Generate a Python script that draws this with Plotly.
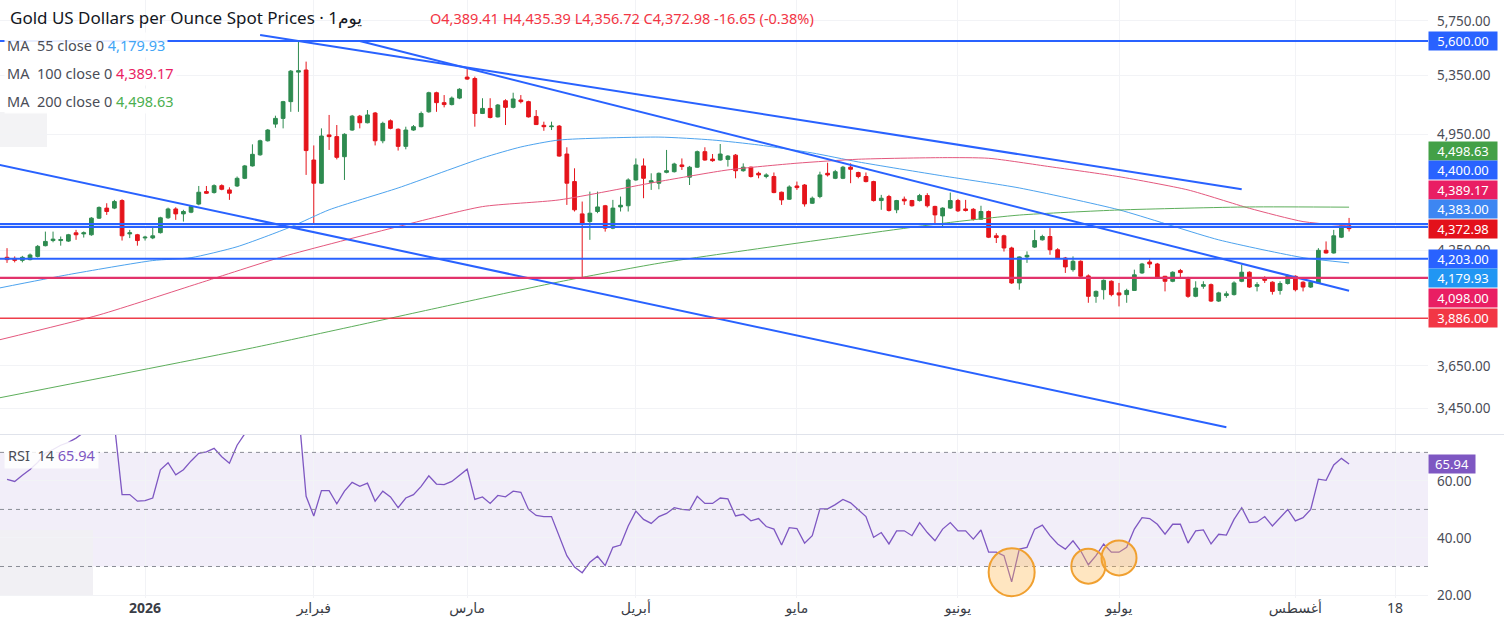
import numpy as np
import pandas as pd
import plotly.graph_objects as go

FONT = "Noto Sans, DejaVu Sans, sans-serif"

# ---- data -------------------------------------------------------------
# one bar per weekday, no bar on Good Friday and 19 June
holidays = ["2026-04-03", "2026-06-19"]
dates = [d for d in pd.bdate_range("2025-12-08", "2026-08-12") if d.strftime("%Y-%m-%d") not in holidays]

open_ = [
    4211, 4205, 4194, 4198, 4216, 4276, 4305, 4305, 4302, 4349,
    4343, 4338, 4434, 4493, 4493, 4538, 4343, 4338, 4320, 4320,
    4350, 4436, 4488, 4459, 4469, 4517, 4592, 4586, 4628, 4602,
    4626, 4673, 4750, 4820, 4910, 5019, 5057, 5170, 5375, 5390,
    4787, 4643, 4948, 4937, 4808, 4980, 5072, 5028, 5093, 4910,
    5041, 4985, 4874, 4980, 5002, 5101, 5231, 5163, 5150, 5194,
    5340, 5330, 5090, 5124, 5067, 5176, 5131, 5181, 5170, 5070,
    5011, 5002, 5006, 4825, 4653, 4459, 4414, 4473, 4507, 4376,
    4500, 4507, 4663, 4750, 4648, 4643, 4710, 4714, 4756, 4680,
    4742, 4840, 4793, 4787, 4791, 4818, 4720, 4742, 4704, 4684,
    4684, 4588, 4546, 4626, 4632, 4522, 4562, 4704, 4673, 4673,
    4742, 4709, 4684, 4653, 4538, 4562, 4483, 4546, 4538, 4538,
    4568, 4503, 4447, 4493, 4538, 4488, 4486, 4428, 4473, 4332,
    4332, 4263, 4071, 4213, 4268, 4309, 4328, 4253, 4207, 4143,
    4189, 4109, 4000, 4035, 4080, 4018, 4009, 4031, 4125, 4185,
    4174, 4107, 4080, 4138, 4098, 4000, 4053, 4062, 3975, 4004,
    4009, 4080, 4129, 4053, 4098, 4075, 4031, 4068, 4107, 4075,
    4049, 4071, 4250, 4235, 4324, 4389.41,
]
high = [
    4262, 4216, 4219, 4232, 4280, 4356, 4356, 4328, 4343, 4366,
    4357, 4440, 4503, 4522, 4542, 4546, 4366, 4343, 4332, 4385,
    4442, 4496, 4498, 4483, 4510, 4626, 4626, 4636, 4636, 4618,
    4684, 4756, 4887, 4917, 4987, 5075, 5175, 5390, 5595, 5450,
    4880, 4991, 5080, 5013, 4959, 5080, 5080, 5113, 5100, 5035,
    5050, 4991, 5002, 5013, 5103, 5238, 5238, 5215, 5205, 5262,
    5402, 5343, 5193, 5193, 5154, 5186, 5231, 5215, 5176, 5113,
    5035, 5035, 5013, 4868, 4735, 4532, 4592, 4592, 4512, 4542,
    4562, 4673, 4797, 4797, 4704, 4709, 4851, 4770, 4797, 4750,
    4847, 4868, 4825, 4889, 4818, 4825, 4766, 4746, 4714, 4704,
    4709, 4592, 4630, 4653, 4638, 4562, 4714, 4770, 4725, 4750,
    4766, 4714, 4709, 4658, 4572, 4572, 4542, 4562, 4542, 4578,
    4582, 4507, 4498, 4586, 4548, 4542, 4493, 4507, 4479, 4347,
    4338, 4270, 4216, 4244, 4366, 4338, 4376, 4262, 4213, 4216,
    4194, 4117, 4031, 4090, 4085, 4071, 4040, 4143, 4180, 4202,
    4180, 4109, 4134, 4147, 4104, 4080, 4080, 4068, 4024, 4026,
    4080, 4170, 4134, 4075, 4107, 4080, 4080, 4117, 4112, 4080,
    4080, 4262, 4300, 4366, 4395, 4435.39,
]
low = [
    4180, 4183, 4183, 4194, 4210, 4272, 4295, 4276, 4297, 4309,
    4322, 4332, 4429, 4453, 4487, 4305, 4319, 4276, 4305, 4313,
    4345, 4430, 4424, 4414, 4463, 4510, 4578, 4580, 4600, 4542,
    4620, 4668, 4746, 4814, 4905, 4995, 4991, 5101, 5101, 4694,
    4405, 4638, 4851, 4791, 4663, 4975, 4991, 5024, 4880, 4894,
    4985, 4847, 4855, 4975, 4998, 5095, 5101, 5131, 5144, 5187,
    5320, 5002, 5086, 5057, 5063, 5013, 5124, 5158, 5063, 5013,
    4975, 4980, 4808, 4512, 4473, 4098, 4309, 4463, 4356, 4370,
    4473, 4473, 4658, 4552, 4602, 4606, 4704, 4709, 4725, 4632,
    4738, 4783, 4776, 4783, 4746, 4673, 4714, 4678, 4673, 4673,
    4582, 4512, 4542, 4602, 4502, 4518, 4552, 4684, 4668, 4668,
    4643, 4673, 4648, 4532, 4483, 4473, 4463, 4512, 4502, 4532,
    4497, 4405, 4385, 4488, 4470, 4473, 4420, 4424, 4319, 4291,
    4243, 4066, 4035, 4180, 4263, 4305, 4225, 4201, 4125, 4132,
    4101, 3966, 3966, 3983, 4000, 3947, 3966, 4031, 4120, 4152,
    4093, 4026, 4075, 4093, 3992, 3995, 4040, 3970, 3970, 3992,
    4004, 4075, 4044, 4026, 4071, 4009, 4009, 4062, 4026, 4026,
    4044, 4066, 4232, 4232, 4319, 4356.72,
]
close = [
    4198, 4194, 4211, 4224, 4272, 4300, 4313, 4311, 4338, 4338,
    4349, 4434, 4497, 4473, 4532, 4332, 4349, 4305, 4324, 4332,
    4436, 4488, 4459, 4473, 4502, 4588, 4582, 4628, 4606, 4582,
    4673, 4750, 4823, 4910, 4980, 5057, 5170, 5382, 5385, 4847,
    4643, 4941, 4937, 4804, 4952, 5072, 5028, 5080, 4910, 5024,
    4991, 4874, 4980, 5002, 5090, 5231, 5163, 5150, 5194, 5255,
    5326, 5090, 5124, 5063, 5147, 5131, 5188, 5170, 5067, 5016,
    5002, 5006, 4812, 4643, 4483, 4401, 4463, 4500, 4376, 4493,
    4510, 4663, 4756, 4673, 4658, 4704, 4720, 4762, 4746, 4742,
    4840, 4787, 4783, 4825, 4812, 4720, 4742, 4684, 4694, 4694,
    4586, 4542, 4620, 4616, 4518, 4552, 4694, 4694, 4714, 4742,
    4729, 4684, 4653, 4538, 4552, 4479, 4538, 4536, 4507, 4568,
    4507, 4453, 4493, 4538, 4477, 4479, 4428, 4473, 4324, 4322,
    4263, 4071, 4213, 4222, 4305, 4328, 4253, 4207, 4158, 4189,
    4107, 4000, 4026, 4085, 4009, 4007, 4031, 4115, 4174, 4174,
    4098, 4080, 4129, 4127, 4000, 4044, 4062, 3975, 4018, 4013,
    4071, 4129, 4049, 4062, 4085, 4026, 4068, 4107, 4035, 4049,
    4075, 4250, 4235, 4332, 4389.63, 4372.98,
]
rsi = [
    60.5, 59.8, 62, 64, 66.5, 69.7, 71, 72.5, 73.5, 75, 77, 79, 80, 82, 80,
    55.2, 55.2, 52.9, 53.1, 54, 63.9, 66.4, 62.1, 63.9, 67, 69.7, 70.2, 71.4, 68.5, 66.2, 72.5,
    76.5, 79, 81, 83, 85, 86, 87, 85,
    54.6, 47.7, 56.6, 56.6, 52, 56.4, 59.5, 58.1, 59.2, 52.9, 56.4, 54.4, 50.6, 54, 55.2,
    58.1, 61.8, 58.9, 58.7, 59.8, 62.1, 64.1, 53.5, 54.4, 52.1, 54.9, 54.4, 56.4, 56,
    50, 47.9, 47.5, 47.5, 40.8, 33.8, 29.8, 27.8, 31.5, 33.6, 30.3, 36.7, 37.5, 44.2, 49.4,
    46.5, 45.1, 47.5, 48.6, 50.6, 50, 49.8, 54.6, 52.1, 52.1, 54, 53.7, 47.7, 48.3, 46,
    46.8, 44, 43.1, 37.5, 43.6, 43.3, 38.2, 40.8, 50.2, 50.2, 51.7, 53.5, 52.3, 50, 47.5,
    40.2, 41.9, 37.9, 42.5, 42.5, 40.8, 45.4, 41.9, 39, 43.1, 45.4, 42.5, 42.5, 39.6, 42.8,
    35, 35, 33.8, 24.6, 36.1, 36.7, 43.1, 44.5, 40.8, 37.9, 36.1, 39, 35.5, 30.6, 33.8,
    37.9, 35, 35, 36.7, 43.1, 47.1, 46.8, 44.8, 41.3, 44.8, 44.8, 38.2, 42.5, 42.8, 37.9,
    41.3, 41, 46.5, 50.6, 45.4, 45.6, 47.5, 44.2, 47.1, 50, 46, 47.1, 50, 60.6, 60.2, 65.6, 67.9, 65.94,
]

# moving averages at a few dates
ma55_dates = ["2025-12-05", "2025-12-18", "2026-01-02", "2026-01-09", "2026-01-19", "2026-01-28",
              "2026-02-04", "2026-02-17", "2026-03-04", "2026-03-11", "2026-03-18", "2026-04-07",
              "2026-04-16", "2026-04-24", "2026-05-05", "2026-05-13", "2026-05-28", "2026-06-11",
              "2026-07-01", "2026-07-20", "2026-08-04", "2026-08-12"]
ma55 = [4044, 4116, 4193, 4209, 4270, 4383, 4483, 4614, 4800, 4870, 4915, 4934,
        4915, 4883, 4832, 4775, 4688, 4614, 4483, 4309, 4209, 4179.93]
ma100_dates = ["2025-12-05", "2025-12-24", "2026-01-12", "2026-01-27", "2026-02-17", "2026-03-04",
               "2026-03-18", "2026-04-07", "2026-04-20", "2026-05-01", "2026-05-13", "2026-05-28",
               "2026-06-05", "2026-06-17", "2026-07-01", "2026-07-14", "2026-07-24", "2026-08-04",
               "2026-08-12"]
ma100 = [3777, 3903, 4069, 4215, 4385, 4502, 4542, 4653, 4725, 4767, 4792, 4802,
         4798, 4745, 4683, 4602, 4492, 4414, 4389.17]
ma200_dates = ["2025-12-05", "2026-01-21", "2026-02-27", "2026-03-18", "2026-04-07", "2026-05-01",
               "2026-05-28", "2026-06-11", "2026-07-01", "2026-07-24", "2026-08-12"]
ma200 = [3499, 3737, 3964, 4077, 4178, 4290, 4404, 4452, 4482, 4500, 4498.63]

# drawn trend lines (start, end)
trend_dates = [["2026-01-22", "2026-07-23"], ["2026-02-10", "2026-08-12"], ["2025-12-05", "2026-07-21"]]
trend_prices = [[5644, 4606], [5600, 4029], [4756, 3366]]

# horizontal levels
level_blue = [5600, 4400, 4383, 4203]
level_pink = 4098
level_red = 3886

# right-axis value tags
tag_prices = [5600, 4498.63, 4400, 4389.17, 4383, 4372.98, 4203, 4179.93, 4098, 3886]
tag_colors = ["#2962FF", "#43A047", "#2962FF", "#E91E63", "#3D86F2", "#E3111B",
              "#2962FF", "#2196F3", "#E91E63", "#F23645"]
last_close = 4372.98
last_rsi = 65.94

price_ticks = [3450, 3650, 4250, 4950, 5350, 5750]
rsi_ticks = [20, 40, 60]
month_ticks = ["2026-01-01", "2026-02-02", "2026-03-02", "2026-04-01", "2026-05-01",
               "2026-06-01", "2026-07-01", "2026-08-03", "2026-08-18"]
month_labels = ["<b>2026</b>", "فبراير", "مارس", "أبريل", "مايو", "يونيو", "يوليو", "أغسطس", "18"]

# RSI lows circled on the chart (date, rsi)
circle_dates = ["2026-06-10", "2026-06-25", "2026-07-01"]
circle_rsi = [28.0, 30.1, 33.0]

# ---- layout constants -------------------------------------------------
W, H = 1504, 631
M = dict(l=0, r=76, t=0, b=33)
main_dom = [0.2742, 1.0]
rsi_dom = [0.0, 0.2726]
price_range = [3336, 5911]
rsi_range = [18.95, 76.1]
x_range = ["2025-12-05 02:00", "2026-08-22 07:00"]

GREEN = "#2E8B50"
RED = "#E5141B"
BLUE = "#2962FF"
GRID = "#F2F3F6"
TXT = "#4A4D57"

# weekend / holiday gaps inside the bar history only
days = pd.date_range("2025-12-05", "2026-08-12")
breaks = [d.strftime("%Y-%m-%d") for d in days if d.weekday() >= 5] + holidays

fig = go.Figure()

fig.add_trace(go.Candlestick(
    x=dates, open=open_, high=high, low=low, close=close,
    increasing=dict(line=dict(color=GREEN, width=1), fillcolor=GREEN),
    decreasing=dict(line=dict(color=RED, width=1), fillcolor=RED),
    whiskerwidth=0, xaxis="x", yaxis="y", hoverinfo="skip",
))

for d, v, c in [(ma55_dates, ma55, "#4DA3EE"), (ma100_dates, ma100, "#E4587E"), (ma200_dates, ma200, "#5DAE5B")]:
    fig.add_trace(go.Scatter(x=d, y=v, mode="lines", line=dict(color=c, width=1, shape="spline", smoothing=0.6),
                             xaxis="x", yaxis="y", hoverinfo="skip"))

for d, p in zip(trend_dates, trend_prices):
    fig.add_trace(go.Scatter(x=d, y=p, mode="lines", line=dict(color=BLUE, width=2),
                             xaxis="x", yaxis="y", hoverinfo="skip"))

fig.add_trace(go.Scatter(x=dates, y=rsi, mode="lines", line=dict(color="#7E57C2", width=1.3),
                         xaxis="x2", yaxis="y2", hoverinfo="skip"))

shapes = []
# band between 4383 and 4400
shapes.append(dict(type="rect", xref="paper", yref="y", x0=0, x1=1, y0=level_blue[2], y1=level_blue[1],
                   fillcolor="rgba(41,98,255,0.18)", line=dict(width=0), layer="below"))
for lv in level_blue:
    shapes.append(dict(type="line", xref="paper", yref="y", x0=0, x1=1, y0=lv, y1=lv,
                       line=dict(color=BLUE, width=2)))
shapes.append(dict(type="line", xref="paper", yref="y", x0=0, x1=1, y0=level_pink, y1=level_pink,
                   line=dict(color="#E2336B", width=2.2)))
shapes.append(dict(type="line", xref="paper", yref="y", x0=0, x1=1, y0=level_red, y1=level_red,
                   line=dict(color="#EE3E4A", width=1.5)))

# RSI band and guides
shapes.append(dict(type="rect", xref="paper", yref="y2", x0=0, x1=1, y0=30, y1=70,
                   fillcolor="rgba(126,87,194,0.10)", line=dict(width=0), layer="below"))
for lv in (30, 50, 70):
    shapes.append(dict(type="line", xref="paper", yref="y2", x0=0, x1=1, y0=lv, y1=lv,
                       line=dict(color="#8A8D96", width=1, dash="4px,4px")))

# faint patches on the left edge
shapes.append(dict(type="rect", xref="paper", yref="paper", x0=0, x1=47 / 1428, y0=1 - 147 / 598, y1=1 - 112 / 598,
                   fillcolor="#F3F3F5", line=dict(width=0), layer="below"))
shapes.append(dict(type="rect", xref="paper", yref="paper", x0=0, x1=93 / 1428, y0=0.005, y1=1 - 530 / 598,
                   fillcolor="#F1F0F4", line=dict(width=0), layer="below"))

# pane separator
sep = (rsi_dom[1] + main_dom[0]) / 2
shapes.append(dict(type="line", xref="paper", yref="paper", x0=0, x1=W / (W - M["r"]), y0=sep, y1=sep,
                   line=dict(color="#E0E3EB", width=1)))

# circled RSI lows
for d, v, (w, h) in zip(circle_dates, circle_rsi, [(46, 48), (34, 35), (35, 35)]):
    shapes.append(dict(type="circle", xref="x2", yref="y2", xsizemode="pixel", ysizemode="pixel",
                       xanchor=d, yanchor=v, x0=-w / 2, x1=w / 2, y0=-h / 2, y1=h / 2,
                       fillcolor="rgba(255,183,77,0.35)", line=dict(color="#F0A030", width=2)))

# ---- right-axis tags, stacked like the terminal does ---------------------
plot_h = H - M["t"] - M["b"]
pane_h = (main_dom[1] - main_dom[0]) * plot_h
lo, hi = np.log10(price_range)


def to_px(p):
    return (hi - np.log10(p)) / (hi - lo) * pane_h


step = 19.5
nat = [to_px(p) for p in tag_prices]
pos = list(nat)
k = tag_prices.index(last_close)
for i in range(k - 1, -1, -1):
    pos[i] = min(nat[i], pos[i + 1] - step)
for i in range(k + 1, len(pos)):
    pos[i] = max(nat[i], pos[i - 1] + step)

ann = []
for p, c, n, q in zip(tag_prices, tag_colors, nat, pos):
    ann.append(dict(xref="paper", yref="y", x=1, y=np.log10(p), xanchor="left", xshift=0, yshift=n - q,
                    text=f"{p:,.2f}", showarrow=False, bgcolor=c, borderpad=2, width=64, height=14,
                    font=dict(color="white", size=13, family=FONT)))
ann.append(dict(xref="paper", yref="y2", x=1, y=last_rsi, xanchor="left", xshift=0,
                text=f"{last_rsi:.2f}", showarrow=False, bgcolor="#7E57C2", borderpad=2, width=42, height=14,
                font=dict(color="white", size=13, family=FONT)))


def ypx(px):
    return 1 - px / plot_h


ann.append(dict(xref="paper", yref="paper", x=8 / 1428, y=ypx(18), xanchor="left", yanchor="middle",
                text="Gold US Dollars per Ounce Spot Prices · 1يوم", showarrow=False,
                font=dict(color="#131722", size=17, family=FONT)))
ann.append(dict(xref="paper", yref="paper", x=428 / 1428, y=ypx(18), xanchor="left", yanchor="middle",
                text=f"O{open_[-1]:,.2f} H{high[-1]:,.2f} L{low[-1]:,.2f} C{close[-1]:,.2f} "
                     f"{close[-1] - close[-2]:+.2f} ({(close[-1] / close[-2] - 1) * 100:+.2f}%)",
                showarrow=False, font=dict(color="#F23645", size=14.5, family=FONT)))
for row, (n, v, c) in enumerate([(55, ma55[-1], "#42A5F5"), (100, ma100[-1], "#E91E63"), (200, ma200[-1], "#4CAF50")]):
    ann.append(dict(xref="paper", yref="paper", x=4 / 1428, y=ypx(45 + 28 * row), xanchor="left", yanchor="middle",
                    text=f"<span style='color:{TXT}'>MA  {n} close 0</span> <span style='color:{c}'>{v:,.2f}</span>",
                    showarrow=False, bgcolor="rgba(255,255,255,0.9)", borderpad=2,
                    font=dict(size=14.5, family=FONT)))
ann.append(dict(xref="paper", yref="paper", x=4 / 1428, y=ypx(455), xanchor="left", yanchor="middle",
                text=f"<span style='color:{TXT}'>RSI  14</span> <span style='color:#7E57C2'>{last_rsi:.2f}</span>",
                showarrow=False, bgcolor="rgba(255,255,255,0.85)", borderpad=3,
                font=dict(size=14.5, family=FONT)))

xcommon = dict(type="date", range=x_range, rangebreaks=[dict(values=breaks)], tickvals=month_ticks,
               ticktext=month_labels, showgrid=True, gridcolor=GRID, zeroline=False, showline=False,
               rangeslider=dict(visible=False), fixedrange=True)

fig.update_layout(
    width=W, height=H, margin=M, showlegend=False, paper_bgcolor="white", plot_bgcolor="white",
    font=dict(family=FONT, color=TXT, size=14),
    xaxis=dict(**xcommon, anchor="y", matches="x2", showticklabels=False),
    xaxis2=dict(**xcommon, anchor="y2", tickfont=dict(size=14, color="#3A3D46")),
    yaxis=dict(domain=main_dom, type="log", range=[lo, hi], side="right", tickvals=price_ticks,
               ticktext=[f"{v:,.2f}" for v in price_ticks], showgrid=True, gridcolor=GRID,
               zeroline=False, ticklabelstandoff=8, tickfont=dict(size=13.5, color=TXT), fixedrange=True),
    yaxis2=dict(domain=rsi_dom, range=rsi_range, side="right", tickvals=rsi_ticks,
                ticktext=[f"{v:.2f}" for v in rsi_ticks], showgrid=True, gridcolor=GRID,
                zeroline=False, ticklabelstandoff=8, tickfont=dict(size=13.5, color=TXT), fixedrange=True),
    shapes=shapes, annotations=ann, hovermode=False,
)

# the page body has a default 8px margin; drop it so the figure sits at the window corner
fig.write_html("out.html", config={"displayModeBar": False},
               post_script="document.body.style.margin='0';")
